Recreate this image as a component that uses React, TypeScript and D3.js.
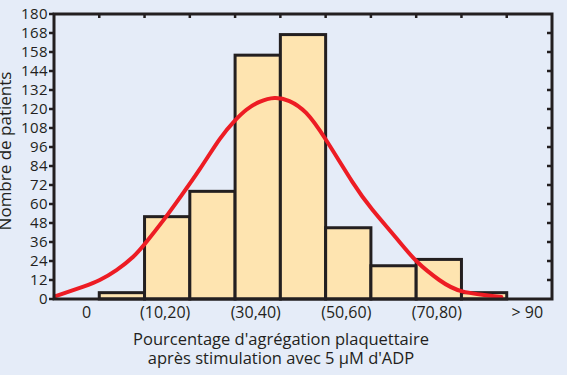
import React from 'react';
import * as d3 from 'd3';

// bins of platelet aggregation (%), one band per 10 %
const categories = ['0', '(0,10)', '(10,20)', '(20,30)', '(30,40)', '(40,50)', '(50,60)', '(60,70)', '(70,80)', '(80,90)', '> 90'];
const counts = [0, 4, 52, 68, 154, 167, 45, 21, 25, 4, 0];
const labelledBins = ['0', '(10,20)', '(30,40)', '(50,60)', '(70,80)', '> 90'];

const yTicks = [0, 12, 24, 36, 48, 60, 72, 84, 96, 108, 120, 132, 144, 156, 168, 180];
const yTickLabels = ['0', '12', '24', '36', '48', '60', '72', '84', '96', '108', '120', '132', '144', '158', '168', '180'];

// fitted normal curve (position in bin widths, count)
const curveX = [0.02, 0.65, 1.01, 1.38, 1.75, 2.04, 2.41, 2.78, 3.22, 3.66, 3.99, 4.25, 4.54, 4.87, 5.2, 5.57, 6.01, 6.59, 7.03, 7.56, 8.02, 8.51, 9.02, 9.88];
const curveY = [1.6, 7.8, 12, 18.3, 26.7, 36, 49.5, 64, 82, 101, 112.5, 119.5, 124.5, 127, 125, 117.5, 100.4, 74, 56.5, 38.5, 23.5, 12, 4.8, 1.3];

const W = 567;
const H = 375;
const left = 54, right = 552, top = 14, bottom = 299;
const font = '"Open Sans", "Noto Sans", sans-serif';
const ink = '#231f20';

const App: React.FC = () => {
  const x = d3.scaleBand<string>().domain(categories).range([left, right]).padding(0);
  const xc = d3.scaleLinear().domain([0, categories.length]).range([left, right]);
  const y = d3.scaleLinear().domain([0, 180]).range([bottom, top]);

  const line = d3.line<number>()
    .x((_, i) => xc(curveX[i]))
    .y(d => y(d))
    .curve(d3.curveNatural);

  const bars = categories.map((c, i) => ({ c, v: counts[i] })).filter(d => d.v > 0);
  const inner = categories.slice(1);

  return (
    <svg width={W} height={H} style={{ position: 'absolute', left: 0, top: 0, background: '#e5ecf8' }}
      fontFamily={font}>
      <rect x={0} y={0} width={W} height={H} fill="#e5ecf8" />

      {bars.map(d => (
        <rect key={d.c} x={x(d.c)} y={y(d.v)} width={x.bandwidth()} height={y(0) - y(d.v)}
          fill="#fee4b0" stroke={ink} strokeWidth={3} />
      ))}

      <path d={line(curveY) || ''} fill="none" stroke="#ed1c24" strokeWidth={4} strokeLinecap="round" />

      {/* frame */}
      <path d={`M${left},${top}H${right}V${bottom}H${left}Z`} fill="none" stroke={ink} strokeWidth={3} />

      {/* top ticks, inward at bin edges */}
      {inner.map(c => (
        <line key={c} x1={x(c)} x2={x(c)} y1={top} y2={top + 4} stroke={ink} strokeWidth={2.5} />
      ))}

      {/* left axis */}
      {yTicks.map((t, i) => (
        <g key={t} transform={`translate(0,${y(t)})`}>
          <line x1={left - 5} x2={left} stroke={ink} strokeWidth={2.5} />
          <text x={left - 6} dy="0.36em" textAnchor="end" fontSize={15} letterSpacing={0.4} fill={ink}>{yTickLabels[i]}</text>
        </g>
      ))}

      {/* right axis, inward ticks */}
      {yTicks.slice(1, -1).map(t => (
        <line key={t} x1={right - 5} x2={right} y1={y(t)} y2={y(t)} stroke={ink} strokeWidth={2.5} />
      ))}

      {/* bottom labels */}
      {labelledBins.map(c => (
        <text key={c} x={(x(c) || 0) + x.bandwidth() / 2 + (c === '0' ? 10 : -2)} y={318}
          textAnchor="middle" fontSize={16} fill={ink}>{c}</text>
      ))}

      <text x={281} y={345} textAnchor="middle" fontSize={16.5} fill={ink}>
        Pourcentage d'agrégation plaquettaire
      </text>
      <text x={281} y={364} textAnchor="middle" fontSize={16.5} fill={ink}>
        après stimulation avec 5 µM d'ADP
      </text>

      <text transform={`translate(11,151) rotate(-90)`} textAnchor="middle" fontSize={17} fill={ink}>
        Nombre de patients
      </text>
    </svg>
  );
};

export default App;
